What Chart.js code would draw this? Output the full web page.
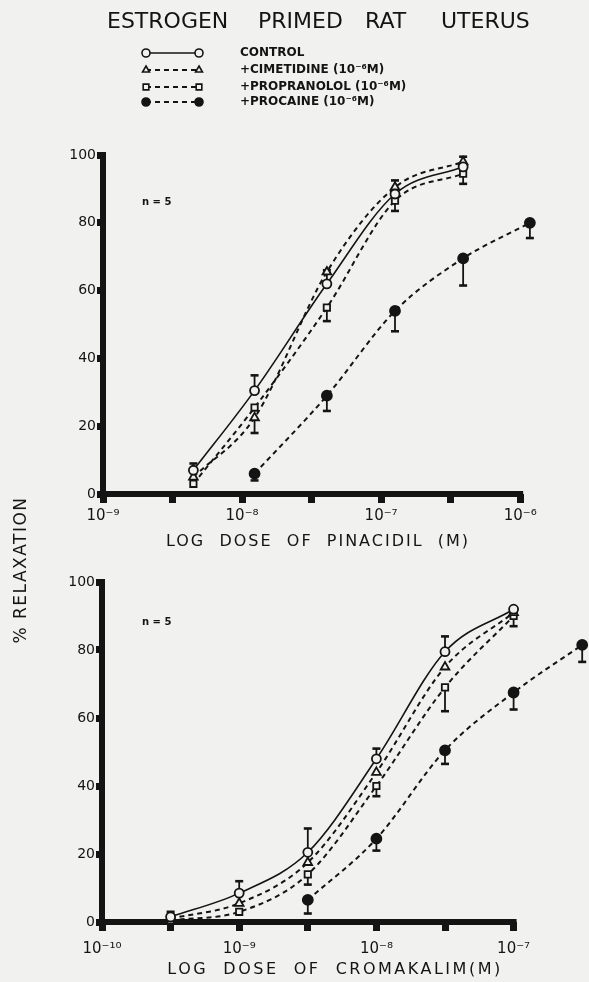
<!DOCTYPE html>
<html>
<head>
<meta charset="utf-8">
<script src="https://cdn.jsdelivr.net/npm/chart.js@4/dist/chart.umd.min.js"></script>
<style>
    html, body { margin: 0; padding: 0; background: #f1f1ef; }
    body { width: 589px; height: 982px; position: relative; overflow: hidden; font-family: "DejaVu Sans", sans-serif; }
    .box { position: absolute; left: 0; width: 589px; }
    #topBox { top: 0; height: 560px; }
    #botBox { top: 560px; height: 422px; }
    #ylab {
        position: absolute; left: -80px; top: 560px; width: 200px; height: 20px;
        line-height: 20px; text-align: center; font-size: 17px; letter-spacing: 1.5px;
        color: #151515; transform: rotate(-90deg);
    }
</style>
</head>
<body>
<div class="box" id="topBox"><canvas id="pinacidilChart"></canvas></div>
<div class="box" id="botBox"><canvas id="cromakalimChart"></canvas></div>
<div id="ylab">% RELAXATION</div>

<script>
// ---- data (log10 of dose, % relaxation, error bar: + up / - down) ----
const pinacidilDose = [-8.35, -7.91, -7.39, -6.90, -6.41, -5.93];
const pinControl     = [7, 30.5, 62, 88.5, 96.5, null];
const pinCimetidine  = [5, 22.5, 65.5, 90.5, 98, null];
const pinPropranolol = [3, 25.5, 55, 86.5, 94.5, null];
const pinProcaine    = [null, 6, 29, 54, 69.5, 80];
const pinControlErr     = [2, 4.5, 4, 4, 3, 0];
const pinCimetidineErr  = [0, -4.5, 0, 0, 0, 0];
const pinPropranololErr = [0, 0, -4, -3, -3, 0];
const pinProcaineErr    = [0, -2, -4.5, -6, -8, -4.5];
const pinacidilTicks = [-9, -8.5, -8, -7.5, -7, -6.5, -6];

const cromakalimDose = [-9.5, -9, -8.5, -8, -7.5, -7, -6.5];
const cromControl     = [1.5, 8.5, 20.5, 48, 79.5, 92, null];
const cromCimetidine  = [1, 5.5, 17.5, 44, 75, 91, null];
const cromPropranolol = [0.5, 3, 14, 40, 69, 90, null];
const cromProcaine    = [null, null, 6.5, 24.5, 50.5, 67.5, 81.5];
const cromControlErr     = [1.5, 3.5, 7, 3, 4.5, -5, 0];
const cromCimetidineErr  = [0, 0, 0, 0, 0, 0, 0];
const cromPropranololErr = [0, 0, -3, -3, -7, 0, 0];
const cromProcaineErr    = [0, 0, -4, -3.5, -4, -5, -5];
const cromakalimTicks = [-10, -9.5, -9, -8.5, -8, -7.5, -7];

const yTicks = [0, 20, 40, 60, 80, 100];
const seriesLabels = ['CONTROL', '+CIMETIDINE (10⁻⁶M)', '+PROPRANOLOL (10⁻⁶M)', '+PROCAINE (10⁻⁶M)'];

const ink = '#141414';
const paper = '#f1f1ef';

const seriesStyles = [
    { borderColor: ink, borderWidth: 1.6, pointStyle: 'circle', pointRadius: 4.5, pointBackgroundColor: paper },
    { borderColor: ink, borderWidth: 2, borderDash: [5, 4], pointStyle: 'triangle', pointRadius: 5, pointBackgroundColor: paper },
    { borderColor: ink, borderWidth: 2, borderDash: [5, 4], pointStyle: 'rect', pointRadius: 4.5, pointBackgroundColor: paper },
    { borderColor: ink, borderWidth: 2, borderDash: [5, 4], pointStyle: 'circle', pointRadius: 5, pointBackgroundColor: ink }
];

function makeSeries(idx, xs, ys, errs) {
    const pts = [];
    const e = [];
    xs.forEach(function(x, i) {
        if (ys[i] !== null) {
            pts.push({ x: x, y: ys[i] });
            e.push(errs[i] || 0);
        }
    });
    return Object.assign({
        label: seriesLabels[idx],
        data: pts,
        errors: e,
        pointBorderColor: ink,
        pointBorderWidth: 1.8,
        fill: false,
        tension: 0.4,
        cubicInterpolationMode: 'monotone',
        clip: false
    }, seriesStyles[idx]);
}

const supMap = { '-': '⁻', '0': '⁰', '1': '¹', '2': '²', '3': '³', '4': '⁴', '5': '⁵', '6': '⁶', '7': '⁷', '8': '⁸', '9': '⁹' };
function powerLabel(v) {
    if (Math.abs(v - Math.round(v)) > 1e-6) return '';
    return '10' + String(Math.round(v)).split('').map(c => supMap[c]).join('');
}

// error bars drawn through the chart's scales
const errorBars = {
    id: 'errorBars',
    beforeDatasetsDraw(chart) {
        const ctx = chart.ctx;
        const xs = chart.scales.x, ys = chart.scales.y;
        ctx.save();
        ctx.strokeStyle = ink;
        chart.data.datasets.forEach(function(ds) {
            ds.data.forEach(function(p, i) {
                const err = ds.errors[i];
                if (!err) return;
                const px = xs.getPixelForValue(p.x);
                const y0 = ys.getPixelForValue(p.y);
                const y1 = ys.getPixelForValue(p.y + err);
                ctx.lineWidth = 1.8;
                ctx.beginPath(); ctx.moveTo(px, y0); ctx.lineTo(px, y1); ctx.stroke();
                ctx.lineWidth = 2.6;
                ctx.beginPath(); ctx.moveTo(px - 4, y1); ctx.lineTo(px + 4, y1); ctx.stroke();
            });
        });
        ctx.restore();
    }
};

// x axis line: stops at the last labelled decade, points may sit past it
const axisLine = {
    id: 'axisLine',
    beforeDatasetsDraw(chart, args, opts) {
        const ctx = chart.ctx;
        const xs = chart.scales.x, ys = chart.scales.y;
        const y = ys.getPixelForValue(0);
        ctx.save();
        ctx.strokeStyle = ink;
        ctx.lineWidth = 6;
        ctx.beginPath();
        ctx.moveTo(xs.getPixelForValue(opts.from) - 3, y);
        ctx.lineTo(xs.getPixelForValue(opts.to) + 3, y);
        ctx.stroke();
        ctx.restore();
    }
};

// title, legend, n label and axis title
const figureText = {
    id: 'figureText',
    afterDraw(chart, args, opts) {
        const ctx = chart.ctx;
        ctx.save();
        ctx.fillStyle = ink;
        ctx.textBaseline = 'middle';

        if (opts.title) {
            ctx.font = '22px "DejaVu Sans"';
            ctx.textBaseline = 'alphabetic';
            ctx.textAlign = 'left';
            opts.title.forEach(w => ctx.fillText(w.text, w.x, w.y));
            ctx.textBaseline = 'middle';
        }

        if (opts.legend) {
            const rows = [53, 70, 87, 102];
            chart.data.datasets.forEach(function(ds, i) {
                const y = rows[i];
                ctx.save();
                ctx.strokeStyle = ink;
                ctx.lineWidth = ds.borderWidth;
                ctx.setLineDash(ds.borderDash || []);
                ctx.beginPath(); ctx.moveTo(146, y); ctx.lineTo(199, y); ctx.stroke();
                ctx.setLineDash([]);
                ctx.fillStyle = ds.pointBackgroundColor;
                ctx.strokeStyle = ink;
                ctx.lineWidth = 1.6;
                [146, 199].forEach(function(x) {
                    Chart.helpers.drawPoint(ctx, { pointStyle: ds.pointStyle, radius: 4, rotation: 0, borderWidth: 1.6 }, x, y);
                });
                ctx.restore();
                ctx.font = 'bold 12px "DejaVu Sans"';
                ctx.textAlign = 'left';
                ctx.fillText(ds.label, 240, y);
            });
        }

        ctx.font = 'bold 10px "DejaVu Sans"';
        ctx.textAlign = 'left';
        ctx.fillText('n = 5', opts.nLabel.x, opts.nLabel.y);

        ctx.font = '16px "DejaVu Sans"';
        ctx.textAlign = 'center';
        ctx.letterSpacing = opts.xTitle.spacing;
        ctx.fillText(opts.xTitle.text, opts.xTitle.x, opts.xTitle.y);
        ctx.restore();
    }
};

function buildOptions(xMin, xMax, xTicks, axisEnds, pad, labelPad, textOpts) {
    return {
        responsive: true,
        maintainAspectRatio: false,
        animation: false,
        layout: { padding: pad },
        plugins: {
            legend: { display: false },
            tooltip: { enabled: false },
            axisLine: { from: axisEnds[0], to: axisEnds[1] },
            figureText: textOpts
        },
        scales: {
            x: {
                type: 'linear',
                min: xMin,
                max: xMax,
                afterFit: s => { s.height = 40; },
                afterBuildTicks: s => { s.ticks = xTicks.map(v => ({ value: v })); },
                border: { display: false },
                grid: { drawOnChartArea: false, drawTicks: true, tickLength: 9, tickWidth: 7, tickColor: ink },
                ticks: {
                    autoSkip: false,
                    maxRotation: 0,
                    padding: labelPad,
                    color: ink,
                    font: { family: 'DejaVu Sans', size: 15 },
                    callback: v => powerLabel(v)
                }
            },
            y: {
                min: 0,
                max: 100,
                afterFit: s => { s.width = 40; },
                afterBuildTicks: s => { s.ticks = yTicks.map(v => ({ value: v })); },
                border: { display: true, color: ink, width: 6 },
                grid: { drawOnChartArea: false, drawTicks: true, tickLength: 6, tickWidth: 7, tickColor: ink },
                ticks: {
                    padding: 1,
                    color: ink,
                    font: { family: 'DejaVu Sans', size: 14 }
                }
            }
        }
    };
}

const pinacidilChart = new Chart(document.getElementById('pinacidilChart'), {
    type: 'line',
    data: {
        datasets: [
            makeSeries(0, pinacidilDose, pinControl, pinControlErr),
            makeSeries(1, pinacidilDose, pinCimetidine, pinCimetidineErr),
            makeSeries(2, pinacidilDose, pinPropranolol, pinPropranololErr),
            makeSeries(3, pinacidilDose, pinProcaine, pinProcaineErr)
        ]
    },
    options: buildOptions(-9, -5.85, pinacidilTicks, [-9, -6], { left: 63, right: 48, top: 155, bottom: 26 }, 4, {
        title: [
            { text: 'ESTROGEN', x: 107, y: 28 },
            { text: 'PRIMED', x: 258, y: 28 },
            { text: 'RAT', x: 365, y: 28 },
            { text: 'UTERUS', x: 441, y: 28 }
        ],
        legend: true,
        nLabel: { x: 142, y: 202 },
        xTitle: { text: 'LOG  DOSE  OF  PINACIDIL  (M)', x: 318, y: 542, spacing: '2px' }
    }),
    plugins: [axisLine, errorBars, figureText]
});

const cromakalimChart = new Chart(document.getElementById('cromakalimChart'), {
    type: 'line',
    data: {
        datasets: [
            makeSeries(0, cromakalimDose, cromControl, cromControlErr),
            makeSeries(1, cromakalimDose, cromCimetidine, cromCimetidineErr),
            makeSeries(2, cromakalimDose, cromPropranolol, cromPropranololErr),
            makeSeries(3, cromakalimDose, cromProcaine, cromProcaineErr)
        ]
    },
    options: buildOptions(-10, -6.5, cromakalimTicks, [-10, -7], { left: 62, right: 3, top: 22, bottom: 20 }, 9, {
        legend: false,
        nLabel: { x: 142, y: 62 },
        xTitle: { text: 'LOG  DOSE  OF  CROMAKALIM(M)', x: 335, y: 410, spacing: '2.5px' }
    }),
    plugins: [axisLine, errorBars, figureText]
});
</script>
</body>
</html>
